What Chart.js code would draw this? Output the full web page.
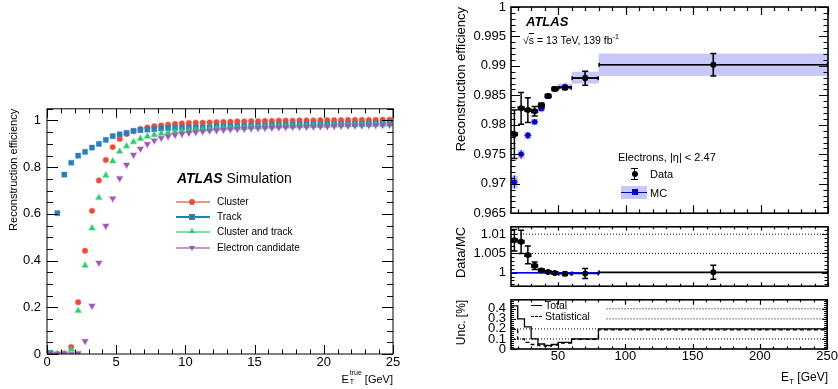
<!DOCTYPE html>
<html>
<head>
<meta charset="utf-8">
<script src="https://cdn.jsdelivr.net/npm/chart.js@4.4.1/dist/chart.umd.min.js"></script>
<style>
  html, body { margin: 0; padding: 0; background: #fff; }
  body { width: 838px; height: 389px; position: relative; overflow: hidden;
         font-family: 'Liberation Sans', Arial, Helvetica, sans-serif; color: #000; }
  .box { position: absolute; }
  .txt { position: absolute; white-space: nowrap; line-height: 1; }
  .mk { position: absolute; }
  .ss { display: inline-block; position: relative; width: 13px; height: 1em; }
  .ss .sup { position: absolute; left: 1px; top: -3px; font-size: 7px; }
  .ss .sub { position: absolute; left: 1px; top: 6px; font-size: 7px; }
</style>
</head>
<body>
<div class="box" style="left:0;top:95px;width:420px;height:294px"><canvas id="effChart"></canvas></div>
<div class="box" style="left:440px;top:-10px;width:398px;height:236px"><canvas id="recoChart"></canvas></div>
<div class="box" style="left:440px;top:214px;width:398px;height:85px"><canvas id="ratioChart"></canvas></div>
<div class="box" style="left:440px;top:287px;width:398px;height:102px"><canvas id="uncChart"></canvas></div>

<!-- left panel labels -->
<div class="txt" style="left:177px;top:171px;font-size:14px"><b><i>ATLAS</i></b> Simulation</div>
<div class="mk" style="left:176px;top:201px;width:34px;height:2px;background:#f1948a"></div>
<div class="mk" style="left:189px;top:199px;width:6px;height:6px;border-radius:50%;background:#e74c3c"></div>
<div class="txt" style="left:217px;top:197px;font-size:10px">Cluster</div>
<div class="mk" style="left:176px;top:216px;width:34px;height:2px;background:#2980b9"></div>
<div class="mk" style="left:189px;top:214px;width:6px;height:6px;background:#2980b9"></div>
<div class="txt" style="left:217px;top:212px;font-size:10px">Track</div>
<div class="mk" style="left:176px;top:231px;width:34px;height:2px;background:#82e0aa"></div>
<div class="mk" style="left:189px;top:228px;width:0;height:0;border-left:3px solid transparent;border-right:3px solid transparent;border-bottom:5px solid #2ecc71"></div>
<div class="txt" style="left:217px;top:227px;font-size:10px">Cluster and track</div>
<div class="mk" style="left:176px;top:247px;width:34px;height:2px;background:#c39bd3"></div>
<div class="mk" style="left:189px;top:246px;width:0;height:0;border-left:3px solid transparent;border-right:3px solid transparent;border-top:5px solid #9b59b6"></div>
<div class="txt" style="left:217px;top:243px;font-size:10px">Electron candidate</div>
<div class="txt" style="right:445px;top:372px;font-size:11px">E<span class="ss"><span class="sup">true</span><span class="sub">T</span></span> [GeV]</div>

<!-- right panel labels -->
<div class="txt" style="left:526px;top:15px;font-size:13px"><b><i>ATLAS</i></b></div>
<div class="txt" style="left:523px;top:33px;font-size:10.5px">&radic;<span style="text-decoration:overline">s</span> = 13 TeV, 139 fb<sup style="font-size:7px">-1</sup></div>
<div class="txt" style="left:618px;top:152px;font-size:11px">Electrons, |&eta;| &lt; 2.47</div>
<div class="mk" style="left:634px;top:168px;width:1px;height:12px;background:#000"></div>
<div class="mk" style="left:631px;top:168px;width:7px;height:1px;background:#000"></div>
<div class="mk" style="left:631px;top:179px;width:7px;height:1px;background:#000"></div>
<div class="mk" style="left:632px;top:171px;width:6px;height:6px;border-radius:50%;background:#000"></div>
<div class="txt" style="left:650px;top:169px;font-size:11px">Data</div>
<div class="mk" style="left:621px;top:186px;width:26px;height:13px;background:#c8c8f8"></div>
<div class="mk" style="left:621px;top:192px;width:26px;height:1px;background:#0000cc"></div>
<div class="mk" style="left:632px;top:189px;width:6px;height:6px;background:#0000cc"></div>
<div class="txt" style="left:650px;top:188px;font-size:11px">MC</div>
<div class="mk" style="left:531px;top:305px;width:11px;height:1px;background:#000"></div>
<div class="txt" style="left:545px;top:300px;font-size:10.5px">Total</div>
<div class="mk" style="left:531px;top:316px;width:11px;height:0;border-top:1px dashed #000"></div>
<div class="txt" style="left:545px;top:311px;font-size:10.5px">Statistical</div>
<div class="txt" style="right:10px;top:371px;font-size:12px">E<sub style="font-size:8px">T</sub> [GeV]</div>

<script>
// ---- left panel: simulated reconstruction efficiency vs true E_T ----
const ET_CENTERS = [0.25, 0.75, 1.25, 1.75, 2.25, 2.75, 3.25, 3.75, 4.25, 4.75,
    5.25, 5.75, 6.25, 6.75, 7.25, 7.75, 8.25, 8.75, 9.25, 9.75,
    10.25, 10.75, 11.25, 11.75, 12.25, 12.75, 13.25, 13.75, 14.25, 14.75,
    15.25, 15.75, 16.25, 16.75, 17.25, 17.75, 18.25, 18.75, 19.25, 19.75,
    20.25, 20.75, 21.25, 21.75, 22.25, 22.75, 23.25, 23.75, 24.25, 24.75];
const EFF_CLUSTER = [0.0, 0.0, 0.002, 0.03, 0.222, 0.442, 0.613, 0.743, 0.831, 0.886,
    0.921, 0.942, 0.955, 0.964, 0.970, 0.975, 0.979, 0.982, 0.985, 0.987,
    0.989, 0.990, 0.991, 0.992, 0.993, 0.994, 0.995, 0.996, 0.996, 0.997,
    0.997, 0.998, 0.998, 0.999, 0.999, 0.999, 1.000, 1.000, 1.000, 1.001,
    1.001, 1.001, 1.001, 1.002, 1.002, 1.002, 1.002, 1.002, 1.003, 1.003];
const EFF_TRACK = [0.005, 0.603, 0.768, 0.819, 0.849, 0.866, 0.884, 0.900, 0.917, 0.933,
    0.941, 0.947, 0.955, 0.959, 0.961, 0.963, 0.966, 0.967, 0.968, 0.969,
    0.970, 0.970, 0.971, 0.971, 0.975, 0.975, 0.976, 0.976, 0.977, 0.977,
    0.978, 0.978, 0.980, 0.980, 0.981, 0.981, 0.982, 0.982, 0.983, 0.983,
    0.984, 0.984, 0.985, 0.986, 0.986, 0.987, 0.987, 0.988, 0.988, 0.988];
const EFF_CLUSTER_TRACK = [0.0, 0.0, 0.0, 0.02, 0.185, 0.379, 0.539, 0.669, 0.765, 0.826,
    0.867, 0.890, 0.908, 0.922, 0.932, 0.938, 0.944, 0.948, 0.952, 0.955,
    0.958, 0.960, 0.962, 0.964, 0.966, 0.967, 0.968, 0.969, 0.970, 0.971,
    0.972, 0.973, 0.974, 0.975, 0.975, 0.976, 0.977, 0.977, 0.978, 0.978,
    0.979, 0.980, 0.980, 0.981, 0.981, 0.982, 0.982, 0.983, 0.983, 0.984];
const EFF_ELECTRON = [0.0, 0.0, 0.0, 0.0, 0.003, 0.055, 0.206, 0.391, 0.549, 0.666,
    0.752, 0.810, 0.853, 0.879, 0.899, 0.914, 0.925, 0.932, 0.938, 0.943,
    0.947, 0.950, 0.953, 0.956, 0.958, 0.960, 0.962, 0.963, 0.964, 0.966,
    0.967, 0.968, 0.969, 0.970, 0.971, 0.972, 0.972, 0.973, 0.974, 0.975,
    0.975, 0.976, 0.977, 0.977, 0.978, 0.978, 0.979, 0.980, 0.980, 0.981];
const LEFT_X_TICKS = [0, 5, 10, 15, 20, 25];
const LEFT_Y_TICKS = [0, 0.2, 0.4, 0.6, 0.8, 1];

// ---- right panels: data vs MC in E_T bins ----
const BIN_LO = [15, 20, 25, 30, 35, 40, 45, 50, 60, 80];
const BIN_HI = [20, 25, 30, 35, 40, 45, 50, 60, 80, 250];
const BIN_CENTER = [17.5, 22.5, 27.5, 32.5, 37.5, 42.5, 47.5, 55, 70, 165];
const DATA_EFF = [0.9784, 0.9828, 0.9825, 0.9823, 0.9833, 0.9849, 0.9861, 0.9863, 0.9879, 0.9902];
const DATA_ERR = [0.0041, 0.0027, 0.0021, 0.0008, 0.0004, 0.0003, 0.0003, 0.0003, 0.0012, 0.0019];
const MC_EFF = [0.9703, 0.9750, 0.9782, 0.9805, 0.9827, 0.9848, 0.9861, 0.9865, 0.9880, 0.9902];
const MC_ERR = [0.0011, 0.0007, 0.0006, 0.0005, 0.0004, 0.0003, 0.0003, 0.0005, 0.0010, 0.0019];
const RATIO = [1.0084, 1.0080, 1.0046, 1.0018, 1.0006, 1.0002, 0.9999, 0.9997, 0.9998, 1.0001];
const RATIO_ERR = [0.0028, 0.0030, 0.0023, 0.0010, 0.0004, 0.0003, 0.0003, 0.0004, 0.0013, 0.0018];
const UNC_TOTAL = [0.43, 0.30, 0.22, 0.10, 0.05, 0.035, 0.045, 0.065, 0.10, 0.20];
const UNC_STAT = [0.20, 0.10, 0.065, 0.045, 0.035, 0.03, 0.04, 0.06, 0.095, 0.19];
const RATIO_REF = [1.005, 1.01];
const UNC_REF = [0.1, 0.2, 0.3, 0.4];
const RIGHT_X_TICKS = [50, 100, 150, 200, 250];
const RECO_Y_TICKS = [0.965, 0.97, 0.975, 0.98, 0.985, 0.99, 0.995, 1];
const RATIO_Y_TICKS = [1, 1.005, 1.01];
const UNC_Y_TICKS = [0, 0.1, 0.2, 0.3, 0.4];

Chart.defaults.font.family = "'Liberation Sans', Arial, Helvetica, sans-serif";
Chart.defaults.color = '#000';
Chart.defaults.animation = false;
Chart.defaults.plugins.legend.display = false;
Chart.defaults.plugins.tooltip.enabled = false;

// ROOT-like frame: box around the plot area with inward ticks on all sides
const frameTicks = {
    id: 'frameTicks',
    afterDatasetsDraw(chart, args, o) {
        const { ctx, chartArea: a, scales: { x, y } } = chart;
        ctx.save();
        ctx.strokeStyle = '#000';
        ctx.lineWidth = o.tickWidth;
        ctx.beginPath();
        const marks = (scale, step, len, horiz) => {
            const first = Math.ceil(scale.min / step - 1e-6);
            for (let k = first; k * step <= scale.max + step * 1e-6; k++) {
                const p = Math.round(scale.getPixelForValue(k * step)) + 0.5;
                if (horiz) {
                    ctx.moveTo(p, a.bottom); ctx.lineTo(p, a.bottom - len);
                    ctx.moveTo(p, a.top); ctx.lineTo(p, a.top + len);
                } else {
                    ctx.moveTo(a.left, p); ctx.lineTo(a.left + len, p);
                    ctx.moveTo(a.right, p); ctx.lineTo(a.right - len, p);
                }
            }
        };
        marks(x, o.xMinor, o.xMinorLen, true);
        marks(x, o.xMajor, o.xMajorLen, true);
        marks(y, o.yMinor, o.yMinorLen, false);
        marks(y, o.yMajor, o.yMajorLen, false);
        ctx.stroke();
        ctx.lineWidth = o.frameWidth;
        ctx.strokeRect(a.left, a.top, a.right - a.left, a.bottom - a.top);
        ctx.restore();
    }
};

// bands and error bars per E_T bin, drawn underneath the markers
function binMarks(id, bands, bars) {
    return {
        id,
        beforeDatasetsDraw(chart) {
            const { ctx, chartArea: a, scales: { x, y } } = chart;
            ctx.save();
            ctx.beginPath();
            ctx.rect(a.left, a.top, a.right - a.left, a.bottom - a.top);
            ctx.clip();
            bands.forEach(b => {
                ctx.fillStyle = b.color;
                b.y.forEach((v, i) => {
                    const x1 = x.getPixelForValue(BIN_LO[i]), x2 = x.getPixelForValue(BIN_HI[i]);
                    const y1 = y.getPixelForValue(v + b.e[i]), y2 = y.getPixelForValue(v - b.e[i]);
                    ctx.fillRect(x1, y1, x2 - x1, y2 - y1);
                });
            });
            bars.forEach(b => {
                ctx.strokeStyle = b.color;
                ctx.lineWidth = b.width;
                ctx.beginPath();
                b.y.forEach((v, i) => {
                    const x1 = x.getPixelForValue(BIN_LO[i]), x2 = x.getPixelForValue(BIN_HI[i]);
                    const xc = x.getPixelForValue(BIN_CENTER[i]);
                    const yc = y.getPixelForValue(v);
                    const y1 = y.getPixelForValue(v + b.e[i]), y2 = y.getPixelForValue(v - b.e[i]);
                    ctx.moveTo(x1, yc); ctx.lineTo(x2, yc);
                    ctx.moveTo(xc, y1); ctx.lineTo(xc, y2);
                    if (b.cap) {
                        ctx.moveTo(xc - b.cap, y1); ctx.lineTo(xc + b.cap, y1);
                        ctx.moveTo(xc - b.cap, y2); ctx.lineTo(xc + b.cap, y2);
                        ctx.moveTo(x1 + 0.5, yc - 2); ctx.lineTo(x1 + 0.5, yc + 2);
                        ctx.moveTo(x2 - 0.5, yc - 2); ctx.lineTo(x2 - 0.5, yc + 2);
                    }
                });
                ctx.stroke();
            });
            ctx.restore();
        }
    };
}

function fixedTicks(vals) {
    return s => { s.ticks = vals.map(v => ({ value: v })); };
}

function yAxis(min, max, vals, size, title, titleSize, titlePad) {
    return {
        type: 'linear', min, max,
        grid: { display: false, drawTicks: false },
        border: { display: false },
        afterFit: s => { s.width = 71; },
        afterBuildTicks: fixedTicks(vals),
        ticks: { autoSkip: false, padding: 5, font: { size }, callback: v => String(+v.toFixed(4)) },
        title: { display: true, text: title, align: 'end', font: { size: titleSize }, padding: { top: titlePad, bottom: 0 } }
    };
}

function hiddenX() {
    return { type: 'linear', min: 15, max: 250, display: false };
}

function hLine(x1, x2, yv) {
    return [{ x: x1, y: yv }, { x: x2, y: yv }];
}

function stepPoints(vals) {
    return BIN_LO.map((x, i) => ({ x, y: vals[i] })).concat([{ x: BIN_HI[BIN_HI.length - 1], y: vals[vals.length - 1] }]);
}

function pts(xs, ys) {
    return xs.map((x, i) => ({ x, y: ys[i] }));
}

// ---- left chart ----
new Chart(document.getElementById('effChart'), {
    type: 'scatter',
    data: {
        datasets: [
            { label: 'Electron candidate', data: pts(ET_CENTERS, EFF_ELECTRON), pointStyle: 'triangle', pointRotation: 180,
              pointRadius: 3.6, pointBackgroundColor: '#9b59b6', pointBorderColor: 'rgba(155,89,182,0.3)', pointBorderWidth: 1.5 },
            { label: 'Cluster and track', data: pts(ET_CENTERS, EFF_CLUSTER_TRACK), pointStyle: 'triangle',
              pointRadius: 3.6, pointBackgroundColor: '#2ecc71', pointBorderColor: 'rgba(46,204,113,0.3)', pointBorderWidth: 1.5 },
            { label: 'Track', data: pts(ET_CENTERS, EFF_TRACK), pointStyle: 'rect',
              pointRadius: 3.7, pointBackgroundColor: '#2980b9', pointBorderColor: 'rgba(41,128,185,0.3)', pointBorderWidth: 1 },
            { label: 'Cluster', data: pts(ET_CENTERS, EFF_CLUSTER), pointStyle: 'circle',
              pointRadius: 2.7, pointBackgroundColor: '#e74c3c', pointBorderColor: 'rgba(231,76,60,0.3)', pointBorderWidth: 1.5 }
        ]
    },
    options: {
        responsive: true, maintainAspectRatio: false,
        layout: { padding: { top: 10, right: 27, left: 0, bottom: 0 } },
        scales: {
            x: {
                type: 'linear', min: 0, max: 25,
                grid: { display: false, drawTicks: false }, border: { display: false },
                afterFit: s => { s.height = 35; },
                afterBuildTicks: fixedTicks(LEFT_X_TICKS),
                ticks: { autoSkip: false, padding: 1, maxRotation: 0, font: { size: 13 } }
            },
            y: {
                type: 'linear', min: 0, max: 1.05,
                grid: { display: false, drawTicks: false }, border: { display: false },
                afterFit: s => { s.width = 47; },
                afterBuildTicks: fixedTicks(LEFT_Y_TICKS),
                ticks: { autoSkip: false, padding: 6, font: { size: 13 }, callback: v => String(+v.toFixed(2)) },
                title: { display: true, text: 'Reconstruction efficiency', align: 'end', font: { size: 11 }, padding: { top: 7, bottom: 0 } }
            }
        },
        plugins: {
            frameTicks: { xMajor: 5, xMinor: 1, yMajor: 0.2, yMinor: 0.05,
                          xMajorLen: 9, xMinorLen: 4.5, yMajorLen: 11, yMinorLen: 6, tickWidth: 1, frameWidth: 1 }
        }
    },
    plugins: [frameTicks]
});

// ---- right top: efficiency, data vs MC ----
new Chart(document.getElementById('recoChart'), {
    type: 'scatter',
    data: {
        datasets: [
            { label: 'Data', data: pts(BIN_CENTER, DATA_EFF), pointStyle: 'circle', pointRadius: 3,
              pointBackgroundColor: '#000', pointBorderColor: '#000', pointBorderWidth: 0 },
            { label: 'MC', data: pts(BIN_CENTER, MC_EFF), pointStyle: 'rect', pointRadius: 3.3,
              pointBackgroundColor: '#0000cc', pointBorderColor: '#0000cc', pointBorderWidth: 0 }
        ]
    },
    options: {
        responsive: true, maintainAspectRatio: false,
        layout: { padding: { top: 17, right: 10, left: 0, bottom: 10 } },
        scales: {
            x: hiddenX(),
            y: yAxis(0.965, 1, RECO_Y_TICKS, 13, 'Reconstruction efficiency', 13, 14)
        },
        plugins: {
            frameTicks: { xMajor: 50, xMinor: 10, yMajor: 0.005, yMinor: 0.001,
                          xMajorLen: 8, xMinorLen: 4, yMajorLen: 9, yMinorLen: 4.5, tickWidth: 1.2, frameWidth: 1.6 }
        }
    },
    plugins: [frameTicks, binMarks('recoBins',
        [{ y: MC_EFF, e: MC_ERR, color: '#c8c8f8' }],
        [{ y: MC_EFF, e: MC_ERR, color: '#0000cc', width: 1.2, cap: 0 },
         { y: DATA_EFF, e: DATA_ERR, color: '#000', width: 1.5, cap: 3 }])]
});

// ---- right middle: Data/MC ----
new Chart(document.getElementById('ratioChart'), {
    type: 'scatter',
    data: {
        datasets: [
            { label: 'Data/MC', data: pts(BIN_CENTER, RATIO), pointStyle: 'circle', pointRadius: 3,
              pointBackgroundColor: '#000', pointBorderWidth: 0 },
            { data: hLine(15, 80, 1), showLine: true, pointRadius: 0, borderColor: '#0000ee', borderWidth: 1.5 },
            { data: hLine(15, 250, 1), showLine: true, pointRadius: 0, borderColor: '#000', borderWidth: 1.2 },
            ...RATIO_REF.map(v => ({ data: hLine(15, 250, v), showLine: true, pointRadius: 0,
                                    borderColor: '#000', borderWidth: 1, borderDash: [1, 2] }))
        ]
    },
    options: {
        responsive: true, maintainAspectRatio: false,
        layout: { padding: { top: 10, right: 10, left: 0, bottom: 10 } },
        scales: {
            x: hiddenX(),
            y: yAxis(0.9965, 1.0119, RATIO_Y_TICKS, 13, 'Data/MC', 13, 14)
        },
        plugins: {
            frameTicks: { xMajor: 50, xMinor: 10, yMajor: 0.005, yMinor: 0.001,
                          xMajorLen: 4, xMinorLen: 2.5, yMajorLen: 6, yMinorLen: 3.5, tickWidth: 1.2, frameWidth: 1.6 }
        }
    },
    plugins: [frameTicks, binMarks('ratioBins', [],
        [{ y: RATIO, e: RATIO_ERR, color: '#000', width: 1.5, cap: 3 }])]
});

// ---- right bottom: uncertainty ----
new Chart(document.getElementById('uncChart'), {
    type: 'scatter',
    data: {
        datasets: [
            { label: 'Total', data: stepPoints(UNC_TOTAL), showLine: true, stepped: true, pointRadius: 0,
              borderColor: '#000', borderWidth: 1.3 },
            { label: 'Statistical', data: stepPoints(UNC_STAT), showLine: true, stepped: true, pointRadius: 0,
              borderColor: '#000', borderWidth: 1.3, borderDash: [4, 3] },
            ...UNC_REF.map(v => ({ data: hLine(v > 0.25 ? 86 : 15, 250, v), showLine: true, pointRadius: 0,
                                  borderColor: '#000', borderWidth: 1, borderDash: [1, 2] }))
        ]
    },
    options: {
        responsive: true, maintainAspectRatio: false,
        layout: { padding: { top: 10, right: 10, left: 0, bottom: 0 } },
        scales: {
            x: {
                type: 'linear', min: 15, max: 250,
                grid: { display: false, drawTicks: false }, border: { display: false },
                afterFit: s => { s.height = 40; },
                afterBuildTicks: fixedTicks(RIGHT_X_TICKS),
                ticks: { autoSkip: false, padding: 0, maxRotation: 0, font: { size: 13 } }
            },
            y: yAxis(0, 0.49, UNC_Y_TICKS, 13, 'Unc. [%]', 12, 14)
        },
        plugins: {
            frameTicks: { xMajor: 50, xMinor: 10, yMajor: 0.1, yMinor: 0.02,
                          xMajorLen: 5, xMinorLen: 2.5, yMajorLen: 5, yMinorLen: 3, tickWidth: 1.2, frameWidth: 1.6 }
        }
    },
    plugins: [frameTicks]
});
</script>
</body>
</html>
